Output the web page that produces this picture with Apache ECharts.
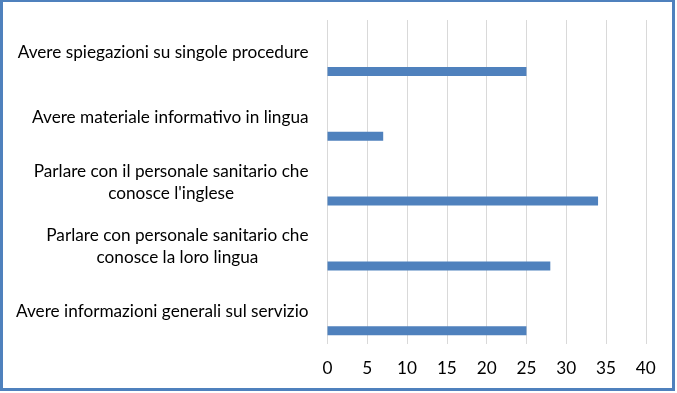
<!DOCTYPE html>
<html><head><meta charset="utf-8">
<script src="https://cdn.jsdelivr.net/npm/echarts@6/dist/echarts.min.js"></script>
<style>
html,body{margin:0;padding:0;background:#fff;}
#chart{position:absolute;left:0;top:0;width:677px;height:393px;}
#frame{position:absolute;left:0;top:-1px;width:669px;height:386px;border:3px solid #4F81BD;pointer-events:none;}
</style></head><body>
<div id="chart"></div><div id="frame"></div>
<script>
const categories = [
  'Avere spiegazioni su singole procedure',
  'Avere materiale informativo in lingua',
  "Parlare con il personale sanitario che\nconosce l'inglese",
  'Parlare con personale sanitario che\nconosce la loro lingua',
  'Avere informazioni generali sul servizio'
];
const values = [25, 7, 34, 28, 25];
const xMin = 0, xMax = 40, xStep = 5;

const FONT_FAMILY = 'Lato';
const FONT_SIZE = 17.2;
const ctx = document.createElement('canvas').getContext('2d');
ctx.font = FONT_SIZE + 'px ' + FONT_FAMILY;
const rich = {};
const labelMap = {};
categories.forEach((c, i) => {
  const lines = c.split('\n');
  const widths = lines.map(l => ctx.measureText(l).width);
  const maxW = Math.max(...widths);
  labelMap[c] = lines.map((l, j) => {
    const key = 'r' + i + '_' + j;
    rich[key] = {fontFamily: FONT_FAMILY, fontSize: FONT_SIZE, color: '#000', lineHeight: 22,
      padding: [0, (maxW - widths[j]) / 2, 0, 0]};
    return '{' + key + '|' + l + '}';
  }).join('\n');
});

const chart = echarts.init(document.getElementById('chart'), null, {renderer: 'canvas'});
chart.setOption({
  animation: false,
  backgroundColor: '#fff',
  grid: {left: 327.5, right: 31.2, top: 20, bottom: 49, containLabel: false},
  xAxis: {
    type: 'value', min: xMin, max: xMax, interval: xStep,
    axisLine: {show: false}, axisTick: {show: false},
    axisLabel: {fontFamily: FONT_FAMILY, fontSize: FONT_SIZE, color: '#000', margin: 16},
    splitLine: {show: true, lineStyle: {color: '#D9D9D9', width: 1}}
  },
  yAxis: {
    type: 'category', data: categories, inverse: true,
    axisLine: {show: false}, axisTick: {show: false},
    axisLabel: {align: 'right', margin: 19, formatter: v => labelMap[v], rich: rich}
  },
  series: [
    {type: 'bar', name: 'empty', data: categories.map(() => '-'), barWidth: 9, barGap: '324%'},
    {type: 'bar', name: 'valori', data: values, barWidth: 9, barGap: '324%',
     itemStyle: {color: '#4F81BD'}}
  ]
});
</script>
</body></html>
